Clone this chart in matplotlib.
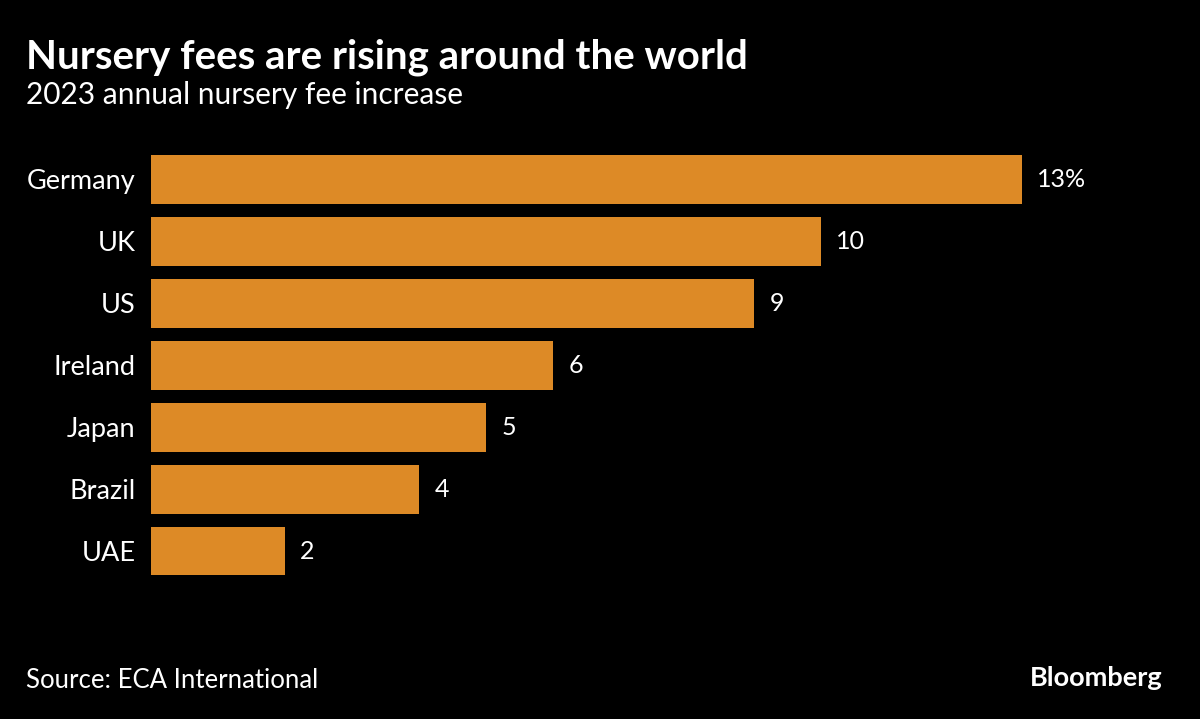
import matplotlib
matplotlib.use("Agg")
import matplotlib.pyplot as plt

countries = ["Germany", "UK", "US", "Ireland", "Japan", "Brazil", "UAE"]
increase = [13, 10, 9, 6, 5, 4, 2]
value_labels = ["13%", "10", "9", "6", "5", "4", "2"]

plt.rcParams['font.family'] = ['Lato', 'DejaVu Sans']

fig = plt.figure(figsize=(12, 7.19), dpi=100)
fig.patch.set_facecolor("black")

# axes placed so that bar scale matches the reference
ax = fig.add_axes([151 / 1200, 1 - 582 / 719, 1005 / 1200, (582 - 148.5) / 719])
ax.set_facecolor("black")

ypos = list(range(len(countries)))
ax.barh(ypos, increase, height=0.79, color="#DD8A26")
ax.set_xlim(0, 15)
ax.set_ylim(6.5, -0.5)

for y, v, lab in zip(ypos, increase, value_labels):
    ax.annotate(lab, (v, y), xytext=(11, 0), textcoords="offset points",
                ha="left", va="center", color="white", fontsize=18)

ax.set_yticks(ypos)
ax.set_yticklabels(countries, color="white", fontsize=19.5)
ax.tick_params(axis="y", length=0, pad=11)
ax.set_xticks([])
for s in ax.spines.values():
    s.set_visible(False)

fig.text(26 / 1200, 1 - 57 / 719, "Nursery fees are rising around the world",
         color="white", fontsize=29, fontweight="bold", va="center", ha="left")
fig.text(26 / 1200, 1 - 95 / 719, "2023 annual nursery fee increase",
         color="white", fontsize=21.5, va="center", ha="left")
fig.text(26 / 1200, 1 - 680 / 719, "Source: ECA International",
         color="white", fontsize=18.5, va="center", ha="left")
fig.text(1163 / 1200, 1 - 678 / 719, "Bloomberg",
         color="white", fontsize=19.5, fontweight="bold", va="center", ha="right")

fig.savefig("out.png", dpi=100, facecolor=fig.get_facecolor())
